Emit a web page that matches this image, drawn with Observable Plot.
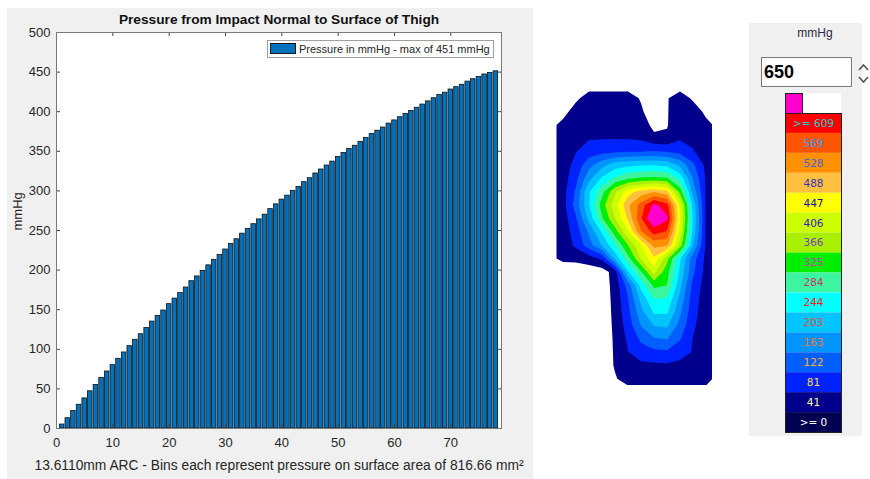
<!DOCTYPE html>
<html>
<head>
<meta charset="utf-8">
<script src="https://cdn.jsdelivr.net/npm/d3@7"></script>
<script src="https://cdn.jsdelivr.net/npm/@observablehq/plot@0.6"></script>
<style>
  body { margin: 0; width: 870px; height: 479px; position: relative; overflow: hidden; background: #fff;
         font-family: "Liberation Sans", Arial, sans-serif; }
  .abs { position: absolute; }
</style>
</head>
<body>
<div id="left" class="abs" style="left:7px;top:8px;width:526px;height:471px;background:#f0f0f0"></div>
<div id="legend" class="abs" style="left:267px;top:40px;width:227px;height:18px;box-sizing:border-box;border:1px solid #a0a0a0;background:#fff;">
  <span class="abs" style="left:2px;top:2px;width:26px;height:11px;box-sizing:border-box;background:#0072BD;border:1px solid #1a1a1a"></span>
  <span id="legendText" class="abs" style="left:31px;top:0px;font-size:11px;line-height:16px;color:#262626;white-space:nowrap"></span>
</div>
<div id="thigh" class="abs" style="left:556px;top:91px"></div>
<div id="right" class="abs" style="left:749px;top:23px;width:113px;height:413px;background:#f0f0f0"></div>
<div id="unitLabel" class="abs" style="left:785px;top:26px;width:60px;text-align:center;font-size:12px;line-height:14px;color:#2b2b40"></div>
<div id="maxBox" class="abs" style="left:761px;top:57px;width:91px;height:30px;box-sizing:border-box;border:1px solid #7a7a7a;background:#fff;font-weight:bold;font-size:18px;line-height:28px;padding-left:2px;color:#000"></div>
<svg class="abs" style="left:857px;top:60px" width="13" height="26">
  <polyline points="2,10 6.5,5 11,10" fill="none" stroke="#555" stroke-width="1.6"/>
  <polyline points="2,17 6.5,22 11,17" fill="none" stroke="#555" stroke-width="1.6"/>
</svg>
<div id="maxSwatch" class="abs" style="left:785px;top:93px;width:18px;height:21px;box-sizing:border-box;border:1px solid #222"></div>
<div class="abs" style="left:803px;top:93px;width:38px;height:20px;background:#fff"></div>
<div id="colorbar" class="abs" style="left:784px;top:112px"></div>

<script>
// ---------- Bar chart data ----------
const chartTitle = "Pressure from Impact Normal to Surface of Thigh";
const xAxisLabel = "13.6110mm ARC - Bins each represent pressure on surface area of 816.66 mm²";
const yAxisLabel = "mmHg";
const legendLabel = "Pressure in mmHg - max of 451 mmHg";
const pressureValues = [
  5, 13, 22, 30, 38, 47, 55, 64, 72, 80,
  88, 96, 104, 112, 119, 127, 135, 142, 149, 157,
  164, 171, 178, 186, 192, 199, 206, 213, 219, 226,
  233, 239, 246, 252, 258, 264, 270, 277, 283, 289,
  294, 300, 305, 311, 316, 322, 327, 332, 337, 343,
  348, 353, 357, 362, 367, 372, 376, 380, 385, 389,
  393, 397, 401, 405, 409, 413, 417, 421, 424, 428,
  431, 434, 438, 441, 444, 447, 449, 451
];
const xTicks = [0, 10, 20, 30, 40, 50, 60, 70];
const yTicks = [0, 50, 100, 150, 200, 250, 300, 350, 400, 450, 500];

// ---------- Pressure map levels ----------
const unitText = "mmHg";
const maxSetting = 650;
const levels = [0, 41, 81, 122, 163, 203, 244, 284, 325, 366, 406, 447, 488, 528, 569, 609];
const levelColors = ["#000050", "#00008c", "#0022ff", "#0060ff", "#0094ff", "#00c4ff", "#00ffff", "#3cf5a0",
                     "#00ee00", "#a8f000", "#ccff00", "#ffff00", "#ffc040", "#ff9000", "#ff5500", "#ff0000"];
const levelTextColors = ["#ffffff", "#ffff99", "#ffdd44", "#ffaa33", "#ee7733", "#dd5533", "#ee2222", "#cc3366",
                         "#bb44aa", "#7744bb", "#3322bb", "#1111aa", "#3333bb", "#4466dd", "#3399ff", "#20d0d0"];
const maxColor = "#ff00cc";

// pressure (mmHg) read on a 12 x 22 grid over the thigh outline (values < 41 lie outside the outline)
const thighGrid = [
  [20, 35, 55, 55, 55, 55, 38, 20, 39, 55, 37, 20],
  [30, 55, 58, 58, 58, 56, 46, 20, 39, 58, 55, 35],
  [50, 62, 66, 68, 68, 66, 60, 31, 39, 64, 60, 48],
  [58, 70, 78, 79, 79, 78, 74, 50, 46, 76, 68, 56],
  [55, 80, 100, 110, 115, 120, 122, 125, 120, 108, 85, 58],
  [60, 95, 150, 190, 225, 235, 240, 242, 235, 195, 130, 70],
  [62, 110, 190, 250, 290, 320, 330, 335, 330, 270, 160, 75],
  [65, 130, 240, 310, 400, 470, 505, 525, 500, 350, 190, 75],
  [65, 140, 240, 345, 430, 520, 585, 662, 625, 440, 230, 76],
  [60, 118, 215, 320, 405, 495, 605, 700, 658, 450, 240, 76],
  [58, 100, 170, 250, 345, 440, 565, 625, 605, 430, 230, 75],
  [55, 90, 145, 205, 280, 365, 445, 540, 535, 390, 205, 74],
  [48, 50, 60, 90, 215, 310, 410, 480, 380, 250, 140, 70],
  [20, 20, 20, 20, 60, 240, 320, 420, 340, 235, 130, 65],
  [20, 20, 20, 20, 55, 140, 260, 335, 325, 215, 110, 62],
  [20, 20, 20, 20, 52, 120, 215, 285, 280, 190, 100, 60],
  [20, 20, 20, 20, 50, 110, 190, 250, 250, 170, 95, 58],
  [20, 20, 20, 20, 48, 100, 165, 205, 210, 150, 88, 56],
  [20, 20, 20, 20, 46, 88, 130, 160, 165, 125, 80, 54],
  [20, 20, 20, 20, 45, 80, 105, 112, 115, 100, 78, 52],
  [20, 20, 20, 20, 44, 62, 70, 72, 74, 68, 60, 50],
  [20, 20, 20, 20, 38, 55, 58, 58, 58, 56, 54, 50]
];

// ---------- Bar chart ----------
const barWidth = 0.8;
const barData = pressureValues.map((value, i) => ({bin: i + 1, value}));
const font = "Liberation Sans, Arial, Helvetica, sans-serif";

const bars = Plot.plot({
  width: 526, height: 471,
  marginLeft: 49, marginRight: 32, marginTop: 24, marginBottom: 51,
  style: {background: "#f0f0f0", fontFamily: font, fontSize: "13px", color: "#262626"},
  x: {domain: [0, 79]},
  y: {domain: [0, 500]},
  marks: [
    Plot.frame({fill: "#ffffff"}),
    Plot.rectY(barData, {x1: d => d.bin - barWidth / 2, x2: d => d.bin + barWidth / 2, y: "value",
      fill: "#0072BD", stroke: "#111", strokeWidth: 0.8}),
    Plot.tickY(yTicks, {y: d => d, insetRight: 441, stroke: "#404040"}),
    Plot.tickY(yTicks, {y: d => d, insetLeft: 441, stroke: "#404040"}),
    Plot.tickX(xTicks, {x: d => d, insetTop: 392, stroke: "#404040"}),
    Plot.tickX(xTicks, {x: d => d, insetBottom: 392, stroke: "#404040"}),
    Plot.frame({stroke: "#7a7a7a"}),
    Plot.axisX({ticks: xTicks, tickSize: 0, tickPadding: 9, label: null, fontSize: 13}),
    Plot.axisY({ticks: yTicks, tickSize: 0, tickPadding: 6, label: null, fontSize: 13}),
    Plot.text([chartTitle], {text: d => d, frameAnchor: "top", dy: -13, lineAnchor: "middle",
      fontWeight: "bold", fontSize: 13.7, fill: "#111"}),
    Plot.text([xAxisLabel], {text: d => d, frameAnchor: "bottom", dy: 37, lineAnchor: "middle", fontSize: 13.8}),
    Plot.text([yAxisLabel], {text: d => d, frameAnchor: "left", dx: -39, rotate: -90, lineAnchor: "middle", fontSize: 13})
  ]
});
document.getElementById("left").append(bars);
document.getElementById("legendText").textContent = legendLabel;

// ---------- Pressure map (contours) ----------
const gridRows = thighGrid.length, gridCols = thighGrid[0].length;
const contourThresholds = levels.slice(1).concat([maxSetting]);
const thigh = Plot.plot({
  width: 156, height: 294, margin: 0,
  x: {domain: [0, gridCols], axis: null},
  y: {domain: [gridRows, 0], axis: null},
  color: {type: "threshold", domain: levels.slice(2).concat([maxSetting]), range: levelColors.slice(1).concat([maxColor])},
  style: {background: "transparent"},
  marks: [
    Plot.contour(thighGrid.flat(), {width: gridCols, height: gridRows, x1: 0, y1: 0, x2: gridCols, y2: gridRows,
      thresholds: contourThresholds, fill: Plot.identity, stroke: null})
  ]
});
document.getElementById("thigh").append(thigh);

// ---------- Colour bar ----------
document.getElementById("unitLabel").textContent = unitText;
document.getElementById("maxBox").textContent = String(maxSetting);
document.getElementById("maxSwatch").style.background = maxColor;

const colorbarRows = levels.map((v, i) => ({
  label: (i === 0 || i === levels.length - 1) ? ">= " + v : String(v),
  color: levelColors[i],
  textColor: levelTextColors[i]
})).reverse();

const colorbar = Plot.plot({
  width: 58, height: 321, margin: 1,
  y: {domain: colorbarRows.map(d => d.label), padding: 0, round: false, axis: null},
  style: {background: "transparent", fontFamily: "DejaVu Sans, Liberation Sans, sans-serif"},
  marks: [
    Plot.cell(colorbarRows, {y: "label", fill: d => d.color}),
    Plot.text(colorbarRows, {y: "label", text: "label", fill: d => d.textColor, fontSize: 10.5}),
    Plot.frame({stroke: "#222"})
  ]
});
document.getElementById("colorbar").append(colorbar);
</script>
</body>
</html>
